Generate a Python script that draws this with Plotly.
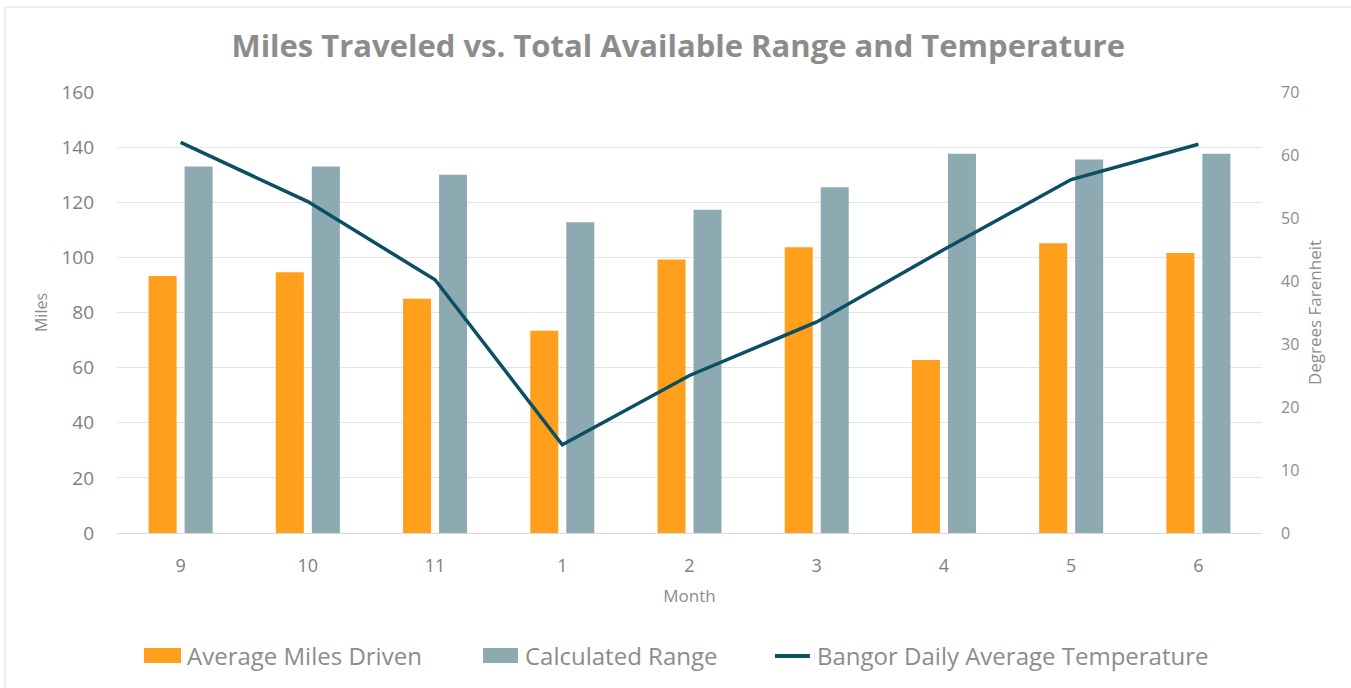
import plotly.graph_objects as go

months = ["9", "10", "11", "1", "2", "3", "4", "5", "6"]
avg_miles = [93.2, 94.6, 85.0, 73.4, 99.2, 103.7, 62.8, 105.1, 101.6]
calc_range = [133.0, 133.0, 130.0, 112.7, 117.3, 125.4, 137.6, 135.5, 137.6]
temperature = [62.0, 52.6, 40.2, 14.0, 25.0, 33.5, 45.0, 56.1, 61.7]

series_names = ["Average Miles Driven", "Calculated Range", "Bangor Daily Average Temperature"]
colors = ["#FF9F1C", "#8DA9B1", "#0B4F63"]

FONT = "Open Sans, Noto Sans, sans-serif"
GRAY = "#8c8c8c"

fig = go.Figure()
fig.add_trace(go.Bar(x=months, y=avg_miles, name=series_names[0],
                     marker=dict(color=colors[0], line=dict(width=0))))
fig.add_trace(go.Bar(x=months, y=calc_range, name=series_names[1],
                     marker=dict(color=colors[1], line=dict(width=0))))
fig.add_trace(go.Scatter(x=months, y=temperature, name=series_names[2],
                         mode="lines", yaxis="y2",
                         line=dict(color=colors[2], width=3.5)))

# manual legend (wide swatches like the original)
leg_y = -0.2789
swatches = [
    dict(type="rect", xref="paper", yref="paper", x0=0.0236, x1=0.0559,
         y0=-0.2948, y1=-0.2608, fillcolor=colors[0], line=dict(width=0)),
    dict(type="rect", xref="paper", yref="paper", x0=0.3197, x1=0.3502,
         y0=-0.2948, y1=-0.2608, fillcolor=colors[1], line=dict(width=0)),
    dict(type="line", xref="paper", yref="paper", x0=0.5747, x1=0.6052,
         y0=leg_y, y1=leg_y, line=dict(color=colors[2], width=4)),
    dict(type="rect", xref="paper", yref="paper", x0=-0.0978, x1=1.0786,
         y0=-0.356, y1=1.1927, line=dict(color="#d9d9d9", width=1), layer="below"),
]
legend_x = [0.0594, 0.3546, 0.6096]
annotations = [
    dict(text=n, x=lx, y=leg_y, xref="paper", yref="paper", xanchor="left", yanchor="middle",
         showarrow=False, font=dict(family=FONT, size=24, color=GRAY))
    for n, lx in zip(series_names, legend_x)
]

fig.update_layout(
    width=1351, height=688, autosize=False, showlegend=False,
    margin=dict(l=117, r=89, t=92, b=155, autoexpand=False),
    paper_bgcolor="white", plot_bgcolor="white",
    font=dict(family=FONT, color=GRAY),
    title=dict(text="<b>Miles Traveled vs. Total Available Range and Temperature</b>",
               x=0.502, xref="container", xanchor="center", y=0.933, yanchor="middle",
               font=dict(family=FONT, size=31, color="#8c8c8c")),
    barmode="group", bargap=0.434, bargroupgap=0.222,
    xaxis=dict(type="category", showgrid=False, showline=False, automargin=False,
               tickfont=dict(size=18, color="#808080"), ticks="", ticklabelstandoff=20,
               title=dict(text="Month", font=dict(size=17, color="#8c8c8c"), standoff=14)),
    yaxis=dict(range=[0, 160], dtick=20, showgrid=True, gridcolor="#e4e4e4", gridwidth=1,
               zeroline=True, zerolinecolor="#d9d9d9", zerolinewidth=1, automargin=False,
               tickfont=dict(size=19, color="#808080"), ticks="", ticklabelstandoff=22,
               title=dict(text="Miles", font=dict(size=16, color="#8c8c8c"), standoff=9)),
    yaxis2=dict(range=[0, 70], dtick=10, overlaying="y", side="right", showgrid=False,
                zeroline=False, automargin=False, tickfont=dict(size=16, color="#8c8c8c"), ticks="",
                ticklabelstandoff=18,
                title=dict(text="Degrees Farenheit", font=dict(size=17, color="#8c8c8c"), standoff=10)),
    shapes=swatches,
    annotations=annotations,
)

fig.write_html("out.html", config={"displayModeBar": False},
               post_script="document.body.style.margin='0';")
